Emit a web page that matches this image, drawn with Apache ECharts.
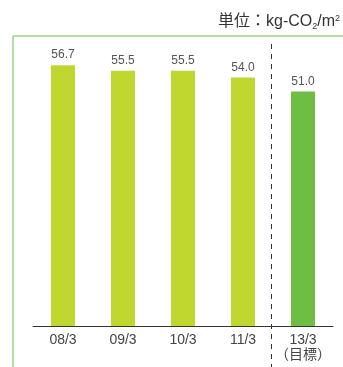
<!DOCTYPE html>
<html>
<head>
<meta charset="utf-8">
<script src="https://cdn.jsdelivr.net/npm/echarts@6/dist/echarts.min.js"></script>
<style>
  html, body { margin: 0; padding: 0; background: #fff; }
  #chart { width: 343px; height: 367px; }
</style>
</head>
<body>
<div id="chart"></div>
<script>
// データ
const categories = ['08/3', '09/3', '10/3', '11/3', '13/3\n（目標）'];
const values = [56.7, 55.5, 55.5, 54.0, 51.0];
const isTarget = [false, false, false, false, true];

const colors = {
  bar: '#c0d72f',
  target: '#6fbe44',
  frame: '#b4dfa0',
  text: '#444'
};
const font = '"Liberation Sans", "Noto Sans CJK JP", sans-serif';

const chart = echarts.init(document.getElementById('chart'));

const option = {
  backgroundColor: '#fff',
  animation: false,
  title: {
    text: '{n|単位：kg-CO}{sub|2}{n|/m}{sup|2}',
    left: 213,
    top: 8,
    textStyle: {
      fontSize: 16,
      fontWeight: 'normal',
      color: '#333',
      fontFamily: font,
      rich: {
        n: { fontSize: 16, color: '#333', fontFamily: font },
        sub: { fontSize: 9, color: '#333', fontFamily: font, padding: [9, 0, 0, 0] },
        sup: { fontSize: 9, color: '#333', fontFamily: font, padding: [0, 0, 7, 0] }
      }
    }
  },
  grid: { left: 33, right: 10, top: 50, bottom: 41 },
  xAxis: {
    type: 'category',
    data: categories,
    axisLine: { lineStyle: { color: '#333', width: 1 } },
    axisTick: { show: false },
    axisLabel: {
      interval: 0,
      color: colors.text,
      fontSize: 14,
      lineHeight: 15,
      margin: 7,
      fontFamily: font
    }
  },
  yAxis: {
    type: 'value',
    min: 0,
    max: 60,
    show: false
  },
  series: [{
    type: 'bar',
    barWidth: 24,
    data: values.map((v, i) => ({
      value: v,
      itemStyle: { color: isTarget[i] ? colors.target : colors.bar }
    })),
    label: {
      show: true,
      position: 'top',
      distance: 4,
      color: '#555',
      fontSize: 12,
      fontFamily: font,
      formatter: p => p.value.toFixed(1)
    }
  }],
  graphic: [
    // 枠線
    { type: 'line', shape: { x1: 13, y1: 36, x2: 343, y2: 36 }, style: { stroke: colors.frame, lineWidth: 2 } },
    { type: 'line', shape: { x1: 13, y1: 36, x2: 13, y2: 367 }, style: { stroke: colors.frame, lineWidth: 2 } },
    // 目標との区切り
    { type: 'line', shape: { x1: 271.5, y1: 44, x2: 271.5, y2: 367 }, style: { stroke: '#333', lineWidth: 1, lineDash: [5, 5] } }
  ]
};

chart.setOption(option);
</script>
</body>
</html>
